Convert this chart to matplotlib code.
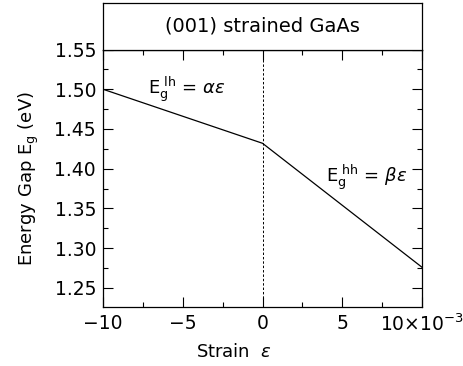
import matplotlib
matplotlib.use("Agg")
import matplotlib.pyplot as plt
from matplotlib.ticker import MultipleLocator

# data (strain in units of 1e-3, gap in eV)
strain = [-10, 0, 10]
gap = [1.500, 1.432, 1.276]
xticks = [-10, -5, 0, 5, 10]
xticklabels = ["\u221210", "\u22125", "0", "5", r"10$\times$10$^{-3}$"]
yticks = [1.25, 1.30, 1.35, 1.40, 1.45, 1.50, 1.55]
title = "(001) strained GaAs"

plt.rcParams['font.family'] = ['DejaVu Sans']
plt.rcParams['mathtext.fontset'] = 'dejavusans'

W, H = 464, 366
fig = plt.figure(figsize=(W/100, H/100), dpi=100)
L, R, T, B = 103, 422, 49.5, 307
ax = fig.add_axes([L/W, 1-B/H, (R-L)/W, (B-T)/H])
tax = fig.add_axes([L/W, 1-T/H, (R-L)/W, (T-3)/H])

ax.plot(strain, gap, color='black', lw=0.9)
ax.axvline(0, color='black', lw=0.7, ls=(0, (2.5, 2)))
ax.set_xlim(-10, 10)
ax.set_ylim(1.226, 1.55)
ax.set_xticks(xticks)
ax.set_xticklabels(xticklabels)
ax.set_yticks(yticks)
ax.set_yticklabels([f"{v:.2f}" for v in yticks])
ax.xaxis.set_minor_locator(MultipleLocator(2.5))
ax.yaxis.set_minor_locator(MultipleLocator(0.025))
ax.tick_params(which='both', direction='in', top=True, right=True, width=0.8, labelsize=13.5)
ax.tick_params(which='major', length=7, pad=5)
ax.tick_params(which='minor', length=3.5)
for s in ax.spines.values():
    s.set_linewidth(0.9)
ax.set_xlabel(r"Strain  $\varepsilon$", fontsize=13, labelpad=7)
ax.xaxis.set_label_coords(0.41, -0.14)
ax.set_ylabel(r"Energy Gap E$_\mathregular{g}$ (eV)", fontsize=13, labelpad=10)

ax.text(-7.2, 1.50, r"E$_\mathregular{g}^{\mathregular{\ lh}}$ = $\alpha\varepsilon$", fontsize=13, va='center', ha='left')
ax.text(4.0, 1.389, r"E$_\mathregular{g}^{\mathregular{\ hh}}$ = $\beta\varepsilon$", fontsize=13, va='center', ha='left')

tax.set_xticks([])
tax.set_yticks([])
for s in tax.spines.values():
    s.set_linewidth(0.9)
tax.text(0.5, 0.5, title, transform=tax.transAxes, ha='center', va='center', fontsize=14)

fig.savefig("out.png", dpi=100)
